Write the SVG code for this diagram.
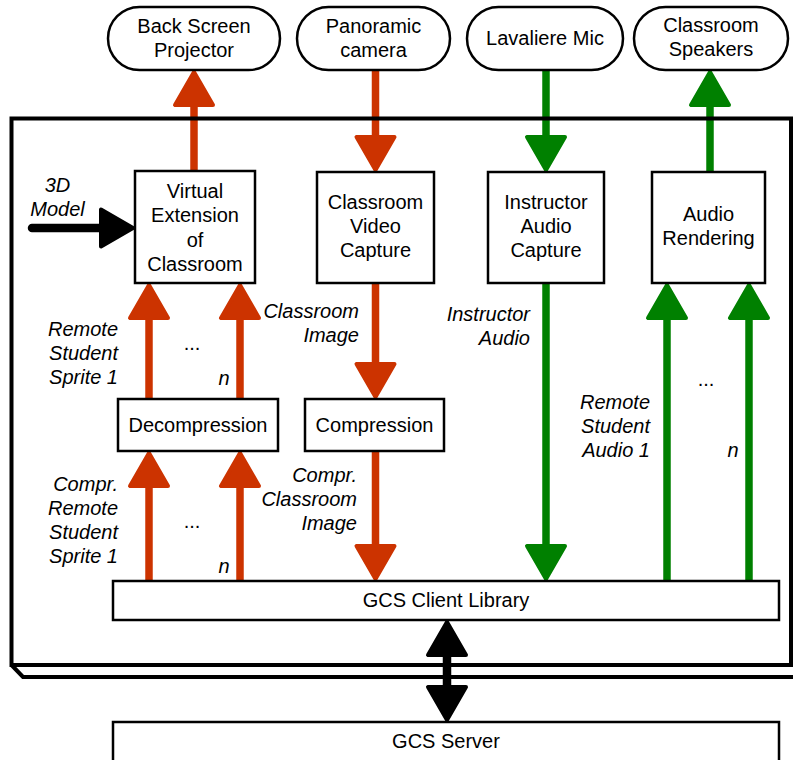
<svg xmlns="http://www.w3.org/2000/svg" width="793" height="760" viewBox="0 0 793 760">
<style>
text{font-family:"Liberation Sans",Arial,sans-serif;font-size:20px;fill:#000;text-anchor:middle}
.it{font-style:italic}
.e{text-anchor:end}
.box{fill:#fff;stroke:#000;stroke-width:2.5}
.frame{fill:none;stroke:#000;stroke-width:4;stroke-linejoin:miter}
.rs{stroke:#CC3300;stroke-width:7.5;fill:none}
.rh{fill:#CC3300;stroke:#CC3300;stroke-width:4;stroke-linejoin:round}
.gs{stroke:#008000;stroke-width:7.5;fill:none}
.gh{fill:#008000;stroke:#008000;stroke-width:4;stroke-linejoin:round}
.ks{stroke:#000;stroke-width:8.5;fill:none}
.kh{fill:#000;stroke:#000;stroke-width:4;stroke-linejoin:round}
</style>
<rect width="793" height="760" fill="#fff"/>
<g id="connectors">
  <line class="rs" x1="194" y1="171" x2="194" y2="100"/>
  <polygon class="rh" points="194,72 175,105 213,105"/>
  <line class="rs" x1="375.5" y1="70" x2="375.5" y2="142"/>
  <polygon class="rh" points="375.5,170 356.5,137 394.5,137"/>
  <line class="rs" x1="375.5" y1="283" x2="375.5" y2="369"/>
  <polygon class="rh" points="375.5,397 356.5,364 394.5,364"/>
  <line class="rs" x1="375.5" y1="451" x2="375.5" y2="551"/>
  <polygon class="rh" points="375.5,579 356.5,546 394.5,546"/>
  <line class="rs" x1="149" y1="399" x2="149" y2="313"/>
  <polygon class="rh" points="149,285 130,318 168,318"/>
  <line class="rs" x1="240" y1="399" x2="240" y2="313"/>
  <polygon class="rh" points="240,285 221,318 259,318"/>
  <line class="rs" x1="149" y1="581" x2="149" y2="481"/>
  <polygon class="rh" points="149,453 130,486 168,486"/>
  <line class="rs" x1="240" y1="581" x2="240" y2="481"/>
  <polygon class="rh" points="240,453 221,486 259,486"/>
  <line class="gs" x1="546" y1="70" x2="546" y2="142"/>
  <polygon class="gh" points="546,170 527,137 565,137"/>
  <line class="gs" x1="546" y1="283" x2="546" y2="551"/>
  <polygon class="gh" points="546,579 527,546 565,546"/>
  <line class="gs" x1="710" y1="171" x2="710" y2="100"/>
  <polygon class="gh" points="710,72 691,105 729,105"/>
  <line class="gs" x1="667" y1="581" x2="667" y2="313"/>
  <polygon class="gh" points="667,285 648,318 686,318"/>
  <line class="gs" x1="749" y1="581" x2="749" y2="313"/>
  <polygon class="gh" points="749,285 730,318 768,318"/>
  <line class="ks" x1="32" y1="228" x2="105" y2="228" stroke-linecap="round"/>
  <polygon class="kh" points="133,228 101,209.5 101,246.5"/>
  <line class="ks" x1="447" y1="650" x2="447" y2="692"/>
  <polygon class="kh" points="447,622 428,655 466,655"/>
  <polygon class="kh" points="447,720 428,687 466,687"/>
  <text class="it" x="57.5" y="192">3D</text>
  <text class="it" x="57.5" y="216">Model</text>
  <text class="it e" x="118" y="336">Remote</text>
  <text class="it e" x="118" y="360">Student</text>
  <text class="it e" x="118" y="384">Sprite 1</text>
  <text x="192" y="350">...</text>
  <text class="it" x="224" y="385">n</text>
  <text class="it e" x="118" y="491">Compr.</text>
  <text class="it e" x="118" y="515">Remote</text>
  <text class="it e" x="118" y="539">Student</text>
  <text class="it e" x="118" y="563">Sprite 1</text>
  <text x="192" y="528">...</text>
  <text class="it" x="224" y="573">n</text>
  <text class="it e" x="359" y="318">Classroom</text>
  <text class="it e" x="359" y="342">Image</text>
  <text class="it e" x="357" y="482">Compr.</text>
  <text class="it e" x="357" y="506">Classroom</text>
  <text class="it e" x="357" y="530">Image</text>
  <text class="it e" x="530" y="321">Instructor</text>
  <text class="it e" x="530" y="345">Audio</text>
  <text class="it e" x="650" y="409">Remote</text>
  <text class="it e" x="650" y="433">Student</text>
  <text class="it e" x="650" y="457">Audio 1</text>
  <text x="706" y="386">...</text>
  <text class="it" x="733" y="457">n</text>
</g>
<g id="client-frame">
  <path class="frame" d="M11.5,118.5 H791 V665 H11.5 Z"/>
  <path class="frame" d="M11.5,665 L23,677 H797"/>
</g>
<g id="back-screen-projector">
  <rect class="box" x="108" y="7" width="172" height="63" rx="31.5"/>
  <text x="194" y="33">Back Screen</text>
  <text x="194" y="57">Projector</text>
</g>
<g id="panoramic-camera">
  <rect class="box" x="297" y="7" width="153" height="63" rx="31.5"/>
  <text x="373.5" y="33">Panoramic</text>
  <text x="373.5" y="57">camera</text>
</g>
<g id="lavaliere-mic">
  <rect class="box" x="467" y="7" width="156" height="63" rx="31.5"/>
  <text x="545" y="45">Lavaliere Mic</text>
</g>
<g id="classroom-speakers">
  <rect class="box" x="634" y="7" width="154" height="63" rx="31.5"/>
  <text x="711" y="32">Classroom</text>
  <text x="711" y="56">Speakers</text>
</g>
<g id="virtual-extension">
  <rect class="box" x="135" y="171" width="120" height="112"/>
  <text x="195" y="198">Virtual</text>
  <text x="195" y="222">Extension</text>
  <text x="195" y="247">of</text>
  <text x="195" y="271">Classroom</text>
</g>
<g id="classroom-video-capture">
  <rect class="box" x="317" y="172" width="117" height="111"/>
  <text x="375.5" y="209">Classroom</text>
  <text x="375.5" y="233">Video</text>
  <text x="375.5" y="257">Capture</text>
</g>
<g id="instructor-audio-capture">
  <rect class="box" x="488" y="172" width="116" height="111"/>
  <text x="546" y="209">Instructor</text>
  <text x="546" y="233">Audio</text>
  <text x="546" y="257">Capture</text>
</g>
<g id="audio-rendering">
  <rect class="box" x="652" y="172" width="113" height="111"/>
  <text x="708.5" y="221">Audio</text>
  <text x="708.5" y="245">Rendering</text>
</g>
<g id="decompression">
  <rect class="box" x="118" y="399" width="160" height="52"/>
  <text x="198" y="431.5">Decompression</text>
</g>
<g id="compression">
  <rect class="box" x="305" y="399" width="139" height="52"/>
  <text x="374.5" y="431.5">Compression</text>
</g>
<g id="gcs-client-library">
  <rect class="box" x="113" y="581" width="666" height="39"/>
  <text x="446" y="606.5">GCS Client Library</text>
</g>
<g id="gcs-server">
  <rect class="box" x="113" y="722" width="666" height="50"/>
  <text x="446" y="748">GCS Server</text>
</g>
</svg>
